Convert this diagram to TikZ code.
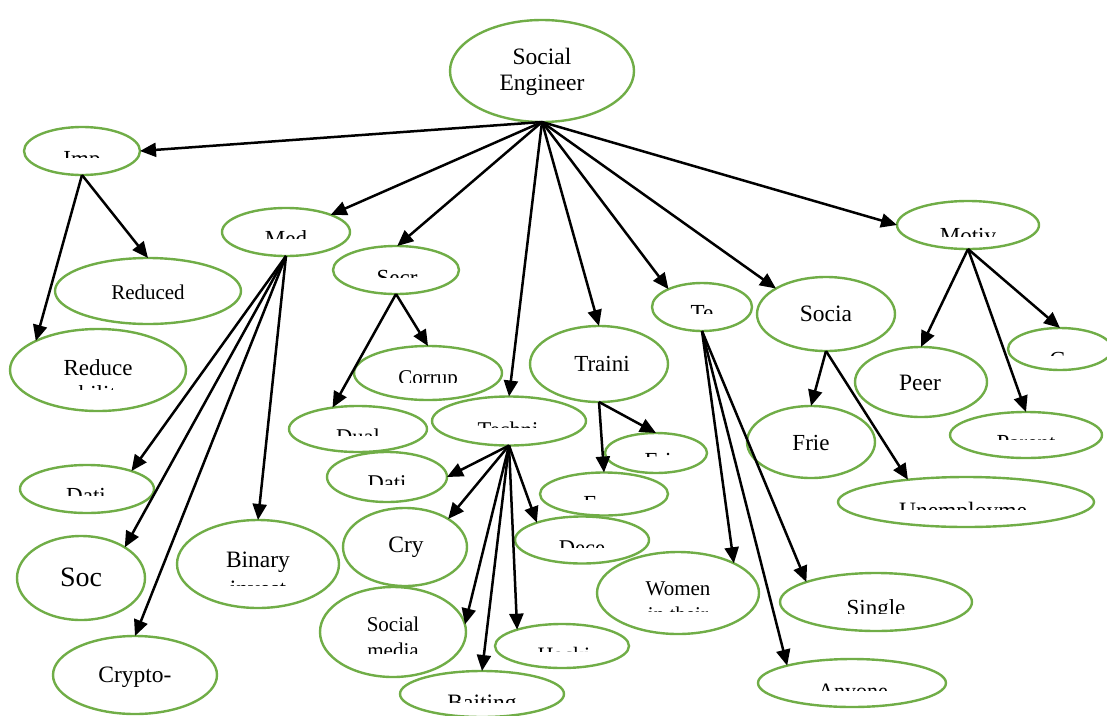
\documentclass[tikz,border=0pt]{standalone}
\usepackage{fontspec}
\setmainfont{Liberation Serif}
\usetikzlibrary{shapes.geometric,arrows.meta}
\definecolor{egreen}{RGB}{112,173,71}
\tikzset{
  el/.style={ellipse,draw=egreen,line width=2.4pt,inner sep=0pt,outer sep=0pt},
  tx/.style={anchor=base,inner sep=0pt,outer sep=0pt,text=black},
  arr/.style={line width=2.5pt,-{Triangle[length=16pt,width=14pt]}},
}
% #1 name, #2 x, #3 y, #4 width, #5 height
\newcommand\elnode[5]{\node[el,minimum width=#4pt,minimum height=#5pt] (#1) at (#2,#3) {};}
% full text: #1 name, #2 x, #3 baseline, #4 size, #5 text
\newcommand\ftext[5]{\node[tx,font=\fontsize{#4}{#4}\selectfont] (#1) at (#2,#3) {#5};}
% clipped text: #1 name, #2 x, #3 baseline, #4 clip y, #5 size, #6 text
\newcommand\ctext[6]{\begin{scope}\clip (#2-160,#3-60) rectangle (#2+160,#4);
  \node[tx,font=\fontsize{#5}{#5}\selectfont] (#1) at (#2,#3) {#6};\end{scope}}
\begin{document}
\begin{tikzpicture}[x=1pt,y=-1pt]
\useasboundingbox (0,0) rectangle (1107,715);
% ellipses
\elnode{root}{542}{71}{184}{102}
\elnode{imp}{82}{151}{116}{48}
\elnode{reduced}{148}{291}{186}{66}
\elnode{reduce}{98}{370}{176}{82}
\elnode{med}{286}{232}{128}{48}
\elnode{dati1}{87}{489}{134}{48}
\elnode{soc}{81}{578}{128}{84}
\elnode{crypto}{135}{675}{164}{78}
\elnode{binary}{258}{564}{162}{88}
\elnode{secr}{396}{270}{126}{48}
\elnode{corrup}{428}{373}{148}{54}
\elnode{dual}{358}{429}{138}{46}
\elnode{techni}{509}{421}{154}{49}
\elnode{traini}{599}{364}{138}{76}
\elnode{dati2}{387}{477}{120}{50}
\elnode{cry}{405}{547}{124}{78}
\elnode{socmed}{393}{632}{146}{90}
\elnode{baiting}{482}{694}{164}{46}
\elnode{hack}{562}{646}{134}{44}
\elnode{dece}{582}{540}{134}{47}
\elnode{emo}{604}{494}{128}{43}
\elnode{fri}{656}{453}{102}{40}
\elnode{te}{702}{307}{100}{48}
\elnode{socia}{826}{314}{138}{74}
\elnode{frie}{811}{442}{128}{72}
\elnode{unemp}{966}{502}{256}{50}
\elnode{motiv}{968}{225}{142}{48}
\elnode{peer}{921}{382}{132}{70}
\elnode{gg}{1060}{349}{104}{42}
\elnode{parent}{1026}{435}{152}{46}
\elnode{women}{678}{593}{162}{82}
\elnode{single}{876}{602}{192}{58}
\elnode{anyone}{852}{683}{188}{48}
% texts
\ftext{rootA}{542}{64}{23.5}{Social}
\ftext{rootB}{542}{90}{23.5}{Engineer}
\ctext{impT}{82}{166}{157.5}{23}{Imp}
\ftext{reducedT}{148}{299}{21}{Reduced}
\ftext{reduceA}{98}{375}{23}{Reduce}
\ctext{reduceB}{98}{401}{389}{23}{ability}
\ctext{medT}{286}{246}{238.5}{23}{Med}
\ctext{dati1T}{86}{503}{495}{23}{Dati}
\ftext{socT}{81}{586}{28}{Soc}
\ftext{cryptoT}{135}{682}{23.5}{Crypto-}
\ftext{binaryA}{258}{567}{23.5}{Binary}
\ctext{binaryB}{258}{596}{585.5}{23.5}{invest}
\ctext{secrT}{397}{285}{277}{23}{Secr}
\ctext{corrupT}{428}{384}{382.5}{21}{Corrup}
\ctext{dualT}{358}{444}{435}{22.5}{Dual}
\ctext{techniT}{508}{437}{427.5}{22.5}{Techni}
\ftext{trainiT}{602}{371}{23}{Traini}
\ctext{dati2T}{387}{490}{484}{22.5}{Dati}
\ftext{cryT}{406}{552}{23.5}{Cry}
\ftext{socmedA}{393}{631}{21}{Social}
\ctext{socmedB}{393}{657}{653}{21}{media}
\ctext{baitingT}{482}{710}{702}{23.5}{Baiting}
\ctext{hackT}{564}{662}{651.5}{22}{Hacki}
\ctext{deceT}{582}{555}{547}{22.5}{Dece}
\ctext{emoT}{605}{511}{499.5}{23}{Emo}
\ctext{friT}{658}{468}{456}{23}{Fri}
\ctext{teT}{702}{320}{313}{23}{Te}
\ftext{sociaT}{826}{321}{23.5}{Socia}
\ftext{frieT}{811}{450}{23}{Frie}
\ctext{unempT}{963}{518}{509}{23.5}{Unemployme}
\ctext{motivT}{968}{243}{236}{23}{Motiv}
\ftext{peerT}{920}{390}{23.5}{Peer}
\ctext{ggT}{1058}{367}{355}{23}{G}
\ctext{parentT}{1026}{450}{439}{23}{Parent}
\ftext{womenA}{678}{595}{21}{Women}
\ctext{womenB}{678}{621}{611}{21}{in their}
\ctext{singleT}{876}{615}{613}{23}{Single}
\ctext{anyoneT}{853}{698}{690}{22}{Anyone}
% connectors
\draw[arr] (root.south) -- (imp.east);
\draw[arr] (root.south) -- (med.21);
\draw[arr] (root.south) -- (secr.87);
\draw[arr] (root.south) -- (techni.north);
\draw[arr] (root.south) -- (traini.north);
\draw[arr] (root.south) -- (te.152);
\draw[arr] (root.south) -- (socia.153);
\draw[arr] (root.south) -- (motiv.west);
\draw[arr] (imp.south) -- (reduced.north);
\draw[arr] (imp.south) -- (reduce.155);
\draw[arr] (med.south) -- (dati1.22);
\draw[arr] (med.south) -- (soc.35);
\draw[arr] (med.south) -- (crypto.north);
\draw[arr] (med.south) -- (binary.north);
\draw[arr] (secr.south) -- (corrup.north);
\draw[arr] (secr.south) -- (dual.140);
\draw[arr] (techni.south) -- (dati2.east);
\draw[arr] (techni.south) -- (cry.33);
\draw[arr] (techni.south) -- (socmed.6);
\draw[arr] (techni.south) -- (baiting.north);
\draw[arr] (techni.south) -- (hack.160);
\draw[arr] (techni.south) -- (dece.159);
\draw[arr] (traini.south) -- (fri.north);
\draw[arr] (traini.south) -- (emo.north);
\draw[arr] (te.south) -- (women.28);
\draw[arr] (te.south) -- (anyone.165);
\draw[arr] (te.south) -- (single.164);
\draw[arr] (socia.south) -- (frie.north);
\draw[arr] (socia.south) -- (unemp.159);
\draw[arr] (motiv.south) -- (peer.north);
\draw[arr] (motiv.south) -- (parent.north);
\draw[arr] (motiv.south) -- (gg.north);
\end{tikzpicture}
\end{document}
